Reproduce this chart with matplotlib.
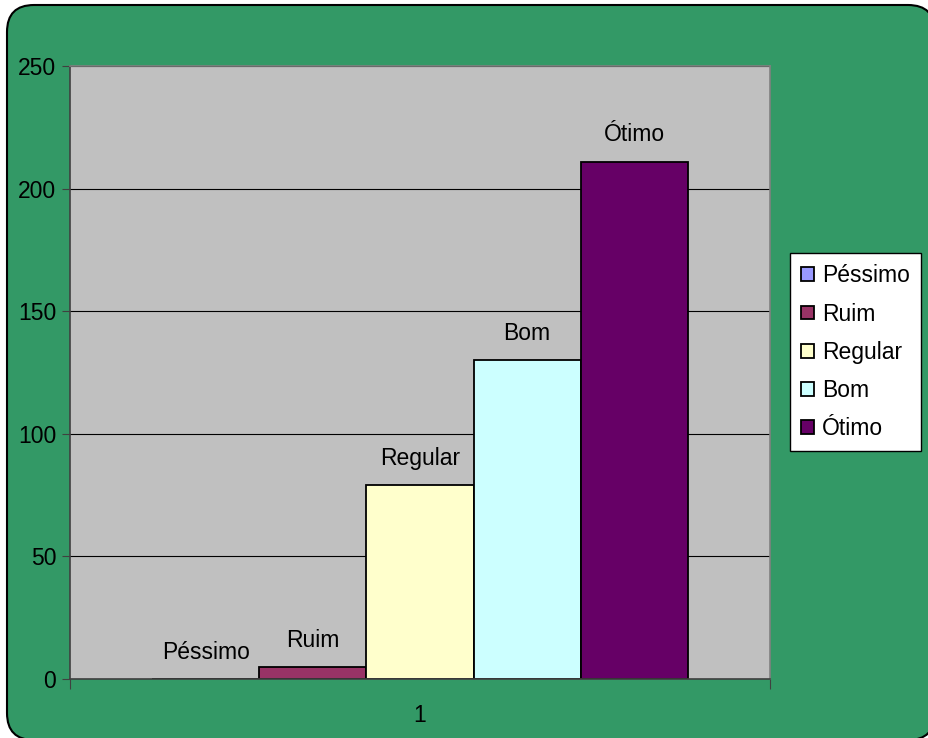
import matplotlib.pyplot as plt
import numpy as np
from matplotlib.patches import FancyBboxPatch

# dados
categorias = ['Péssimo', 'Ruim', 'Regular', 'Bom', 'Ótimo']
valores = [0, 5, 79, 130, 211]
cores = ['#9999FF', '#993366', '#FFFFCC', '#CCFFFF', '#660066']
yticks = [0, 50, 100, 150, 200, 250]

plt.rcParams['font.family'] = ['Liberation Sans', 'DejaVu Sans']
fs = 16.5

fig = plt.figure(figsize=(9.29, 7.38), dpi=100)
fig.patch.set_facecolor('white')

# fundo verde arredondado (cortado à direita e embaixo), em polegadas
fundo = FancyBboxPatch((0.07, -0.02), 9.28, 7.35,
                       boxstyle='round,pad=0,rounding_size=0.27',
                       transform=fig.dpi_scale_trans, facecolor='#339966',
                       edgecolor='black', linewidth=1.5, zorder=-10)
fig.patches.append(fundo)

W, H = 929, 738
ax = fig.add_axes([70 / W, 1 - 679 / H, 700 / W, 613 / H])
ax.set_zorder(1)
ax.set_facecolor('#C0C0C0')

largura = 0.153
n = len(categorias)
for i, (cat, val, cor) in enumerate(zip(categorias, valores, cores)):
    x = 1 + (i - (n - 1) / 2) * largura
    ax.bar(x, val, width=largura, color=cor, edgecolor='black',
           linewidth=1.3, label=cat, zorder=3)
    ax.annotate(cat, (x, val), xytext=(0, 14.5), textcoords='offset points',
                ha='center', va='baseline', fontsize=fs, zorder=4)

ax.set_xlim(0.5, 1.5)
ax.set_ylim(0, 250)
ax.set_yticks(yticks)
ax.set_yticklabels([str(v) for v in yticks], fontsize=fs)
ax.set_xticks([0.5, 1.5])
ax.set_xticklabels([])
ax.set_xticks([1], minor=True)
ax.set_xticklabels(['1'], minor=True, fontsize=fs)
ax.tick_params(axis='x', which='minor', length=0, pad=18)
ax.tick_params(axis='x', which='major', length=7, direction='out', color='#404040')
ax.tick_params(axis='y', length=6, direction='out', color='#404040', pad=4)

ax.grid(axis='y', color='black', linewidth=0.8, zorder=1)
for lado in ['top', 'right']:
    ax.spines[lado].set_color('#808080')
for lado in ['left', 'bottom']:
    ax.spines[lado].set_color('#404040')
for s in ax.spines.values():
    s.set_linewidth(1.2)
    s.set_zorder(5)

leg = fig.legend(loc='upper left', bbox_to_anchor=(790 / W, 1 - 253 / H),
                 fontsize=fs, frameon=True, fancybox=False, edgecolor='black',
                 framealpha=1, handlelength=0.55, handleheight=0.55,
                 handletextpad=0.35, labelspacing=0.66, borderpad=0.5,
                 borderaxespad=0)
leg.get_frame().set_linewidth(1.0)

fig.savefig('out.png', dpi=100, facecolor=fig.get_facecolor())
